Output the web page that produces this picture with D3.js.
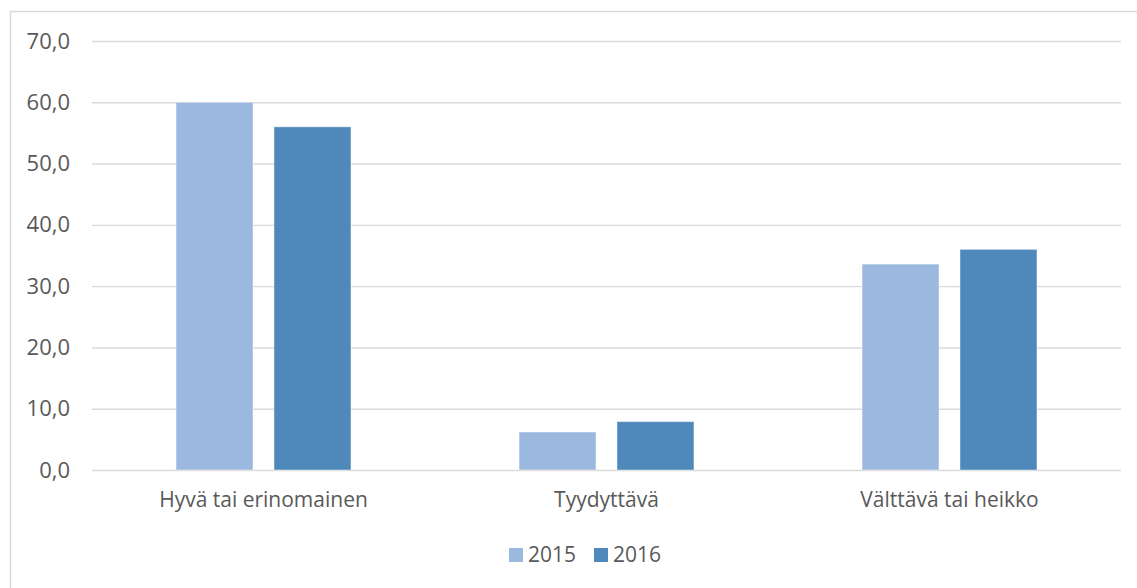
<!DOCTYPE html>
<html>
<head>
<meta charset="utf-8">
<script src="https://cdn.jsdelivr.net/npm/d3@7"></script>
<style>
  html, body { margin: 0; padding: 0; background: #fff; }
  svg { display: block; }
  text { font-family: "Open Sans", "Liberation Sans", sans-serif; fill: #595959; }
</style>
</head>
<body>
<script>
const categories = ["Hyvä tai erinomainen", "Tyydyttävä", "Välttävä tai heikko"];
const seriesNames = ["2015", "2016"];
const values2015 = [60.0, 6.2, 33.6];
const values2016 = [56.0, 7.9, 36.0];
const yTicks = [0, 10, 20, 30, 40, 50, 60, 70];
const colors = ["#9BB9DF", "#4F89BB"];

const W = 1137, H = 588;
const svg = d3.select("body").append("svg").attr("width", W).attr("height", H);

// outer chart border (top & left visible, extends beyond picture)
svg.append("rect")
  .attr("x", 10.5).attr("y", 11.5)
  .attr("width", W + 20).attr("height", H + 20)
  .attr("fill", "none").attr("stroke", "#d9d9d9").attr("stroke-width", 1.5);

const plot = { left: 92, right: 1121, top: 41, bottom: 470 };

const y = d3.scaleLinear().domain([0, 70]).range([plot.bottom, plot.top]);
const x0 = d3.scaleBand().domain(categories).range([plot.left, plot.right])
  .paddingInner(0.49).paddingOuter(0.245);
const x1 = d3.scaleBand().domain(seriesNames).range([0, x0.bandwidth()])
  .paddingInner(0.214).paddingOuter(0);

const fmt = v => d3.format(".1f")(v).replace(".", ",");

// gridlines
const yAxis = d3.axisLeft(y).tickValues(yTicks).tickSize(-(plot.right - plot.left)).tickFormat(fmt).tickPadding(22);
const gy = svg.append("g").attr("transform", `translate(${plot.left},0)`).call(yAxis);
gy.select(".domain").remove();
gy.selectAll(".tick line").attr("stroke", "#d9d9d9").attr("stroke-width", 1.4);
gy.selectAll(".tick text").attr("font-size", 22).attr("fill", "#595959")
  .style("font-family", '"Open Sans", "Liberation Sans", sans-serif');

// bars
const data = categories.map((c, i) => ({ cat: c, vals: [values2015[i], values2016[i]] }));
const groups = svg.selectAll(".grp").data(data).enter().append("g")
  .attr("transform", d => `translate(${x0(d.cat)},0)`);
groups.selectAll("rect").data(d => d.vals.map((v, j) => ({ s: seriesNames[j], v, j })))
  .enter().append("rect")
  .attr("x", d => x1(d.s))
  .attr("y", d => y(d.v))
  .attr("width", x1.bandwidth())
  .attr("height", d => y(0) - y(d.v))
  .attr("fill", d => colors[d.j])
  .attr("stroke", "#ffffff").attr("stroke-opacity", 0.45).attr("stroke-width", 1);

// category axis labels
const xAxis = d3.axisBottom(x0).tickSize(0).tickPadding(22);
const gx = svg.append("g").attr("transform", `translate(0,${plot.bottom})`).call(xAxis);
gx.select(".domain").remove();
gx.selectAll(".tick text").attr("font-size", 21).attr("fill", "#595959")
  .style("font-family", '"Open Sans", "Liberation Sans", sans-serif');

// legend
const legend = svg.append("g");
const legendItems = [{ name: seriesNames[0], x: 509 }, { name: seriesNames[1], x: 594 }];
legendItems.forEach((it, j) => {
  legend.append("rect").attr("x", it.x).attr("y", 548).attr("width", 14).attr("height", 14).attr("fill", colors[j]);
  legend.append("text").attr("x", it.x + 19).attr("y", 555).attr("dy", "0.35em")
    .attr("font-size", 21).text(it.name);
});
</script>
</body>
</html>
